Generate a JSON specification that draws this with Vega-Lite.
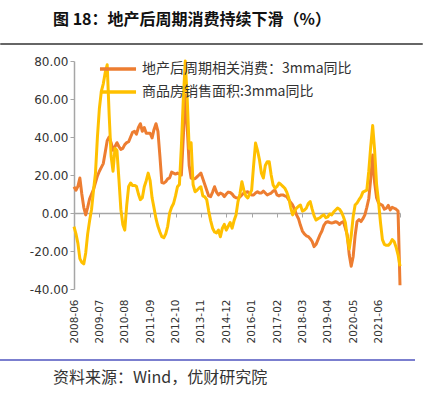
{
  "$schema": "https://vega.github.io/schema/vega-lite/v6.json",
  "padding": {"left": 0, "top": 11, "right": 0, "bottom": 0},
  "background": "white",
  "config": {"view": {"stroke": null}, "font": "DejaVu Sans"},
  "columns": 1,
  "spacing": 10,
  "concat": [
    {
      "width": 421,
      "height": 0.001,
      "data": {"values": []},
      "mark": "rule",
      "encoding": {},
      "view": {"stroke": "#333333", "strokeWidth": 1.5},
      "title": {"text": "图 18：地产后周期消费持续下滑（%）", "anchor": "start", "dx": 52, "offset": 16, "font": "Noto Sans CJK SC", "fontSize": 16, "fontWeight": "bold", "color": "#111111"}
    },
    {
      "width": 421,
      "height": 228,
      "layer": [
        {
          "data": {"values": [
            {"m":"2008-06","consumption":13.8,"sales":-7.2},
            {"m":"2008-07","consumption":12,"sales":-11},
            {"m":"2008-08","consumption":14,"sales":-16},
            {"m":"2008-09","consumption":18.4,"sales":-24},
            {"m":"2008-10","consumption":10,"sales":-26},
            {"m":"2008-11","consumption":3,"sales":-26.8},
            {"m":"2008-12","consumption":-1,"sales":-21},
            {"m":"2009-01","consumption":3,"sales":-11},
            {"m":"2009-02","consumption":7.5,"sales":-4},
            {"m":"2009-03","consumption":10,"sales":2},
            {"m":"2009-04","consumption":12.5,"sales":12},
            {"m":"2009-05","consumption":16,"sales":21},
            {"m":"2009-06","consumption":19.5,"sales":40},
            {"m":"2009-07","consumption":22,"sales":55},
            {"m":"2009-08","consumption":24,"sales":64},
            {"m":"2009-09","consumption":26,"sales":68},
            {"m":"2009-10","consumption":32,"sales":74},
            {"m":"2009-11","consumption":38,"sales":78},
            {"m":"2009-12","consumption":40,"sales":52},
            {"m":"2010-01","consumption":37,"sales":30},
            {"m":"2010-02","consumption":33,"sales":22},
            {"m":"2010-03","consumption":35,"sales":34},
            {"m":"2010-04","consumption":37,"sales":33},
            {"m":"2010-05","consumption":35,"sales":18},
            {"m":"2010-06","consumption":33.5,"sales":2},
            {"m":"2010-07","consumption":34,"sales":-6},
            {"m":"2010-08","consumption":36,"sales":-9},
            {"m":"2010-09","consumption":37,"sales":4},
            {"m":"2010-10","consumption":37.5,"sales":14},
            {"m":"2010-11","consumption":40,"sales":15.8},
            {"m":"2010-12","consumption":42.5,"sales":14.5},
            {"m":"2011-01","consumption":43,"sales":14.5},
            {"m":"2011-02","consumption":41.5,"sales":14},
            {"m":"2011-03","consumption":45,"sales":10},
            {"m":"2011-04","consumption":47,"sales":7},
            {"m":"2011-05","consumption":43,"sales":8},
            {"m":"2011-06","consumption":45,"sales":13.8},
            {"m":"2011-07","consumption":42,"sales":17},
            {"m":"2011-08","consumption":42,"sales":21},
            {"m":"2011-09","consumption":42,"sales":17},
            {"m":"2011-10","consumption":39.5,"sales":8},
            {"m":"2011-11","consumption":44,"sales":2.6},
            {"m":"2011-12","consumption":47,"sales":-3},
            {"m":"2012-01","consumption":43,"sales":-7},
            {"m":"2012-02","consumption":30,"sales":-10},
            {"m":"2012-03","consumption":16,"sales":-12.5},
            {"m":"2012-04","consumption":15.7,"sales":-13},
            {"m":"2012-05","consumption":16.5,"sales":-11},
            {"m":"2012-06","consumption":18,"sales":-7},
            {"m":"2012-07","consumption":18.5,"sales":0},
            {"m":"2012-08","consumption":21.5,"sales":3},
            {"m":"2012-09","consumption":21,"sales":5},
            {"m":"2012-10","consumption":20.5,"sales":9},
            {"m":"2012-11","consumption":21,"sales":13.8},
            {"m":"2012-12","consumption":20.5,"sales":15},
            {"m":"2013-01","consumption":20,"sales":35},
            {"m":"2013-02","consumption":40,"sales":60},
            {"m":"2013-03","consumption":62,"sales":80},
            {"m":"2013-04","consumption":45,"sales":60},
            {"m":"2013-05","consumption":25,"sales":34},
            {"m":"2013-06","consumption":18.4,"sales":37},
            {"m":"2013-07","consumption":18,"sales":15},
            {"m":"2013-08","consumption":18,"sales":11.2},
            {"m":"2013-09","consumption":19,"sales":12},
            {"m":"2013-10","consumption":20,"sales":13},
            {"m":"2013-11","consumption":21,"sales":13.8},
            {"m":"2013-12","consumption":18,"sales":9},
            {"m":"2014-01","consumption":15,"sales":8.5},
            {"m":"2014-02","consumption":12,"sales":7},
            {"m":"2014-03","consumption":9,"sales":1},
            {"m":"2014-04","consumption":8.6,"sales":-4},
            {"m":"2014-05","consumption":11,"sales":-8},
            {"m":"2014-06","consumption":13.8,"sales":-10},
            {"m":"2014-07","consumption":11,"sales":-10.5},
            {"m":"2014-08","consumption":9.5,"sales":-9},
            {"m":"2014-09","consumption":10.5,"sales":-12.5},
            {"m":"2014-10","consumption":10,"sales":-8},
            {"m":"2014-11","consumption":8.6,"sales":-6},
            {"m":"2014-12","consumption":10,"sales":-9},
            {"m":"2015-01","consumption":11,"sales":-7},
            {"m":"2015-02","consumption":10.8,"sales":-5},
            {"m":"2015-03","consumption":10,"sales":-8},
            {"m":"2015-04","consumption":8.6,"sales":-4},
            {"m":"2015-05","consumption":8,"sales":-1},
            {"m":"2015-06","consumption":7.9,"sales":6},
            {"m":"2015-07","consumption":8.5,"sales":10},
            {"m":"2015-08","consumption":9.5,"sales":16.5},
            {"m":"2015-09","consumption":10.5,"sales":12},
            {"m":"2015-10","consumption":11,"sales":9},
            {"m":"2015-11","consumption":11.2,"sales":7.9},
            {"m":"2015-12","consumption":10,"sales":10},
            {"m":"2016-01","consumption":9.5,"sales":12},
            {"m":"2016-02","consumption":9.5,"sales":25},
            {"m":"2016-03","consumption":10.5,"sales":36.8},
            {"m":"2016-04","consumption":11.2,"sales":33},
            {"m":"2016-05","consumption":10.5,"sales":28},
            {"m":"2016-06","consumption":10.5,"sales":21},
            {"m":"2016-07","consumption":11.5,"sales":18.4},
            {"m":"2016-08","consumption":10.5,"sales":25},
            {"m":"2016-09","consumption":9.5,"sales":27},
            {"m":"2016-10","consumption":10,"sales":27},
            {"m":"2016-11","consumption":10.5,"sales":20},
            {"m":"2016-12","consumption":11.5,"sales":14.7},
            {"m":"2017-01","consumption":12,"sales":13},
            {"m":"2017-02","consumption":9.5,"sales":14},
            {"m":"2017-03","consumption":9,"sales":15.8},
            {"m":"2017-04","consumption":9.5,"sales":15},
            {"m":"2017-05","consumption":9.5,"sales":14},
            {"m":"2017-06","consumption":9,"sales":13},
            {"m":"2017-07","consumption":8.6,"sales":11},
            {"m":"2017-08","consumption":7,"sales":7.9},
            {"m":"2017-09","consumption":5.5,"sales":3},
            {"m":"2017-10","consumption":4.2,"sales":-1},
            {"m":"2017-11","consumption":2,"sales":1},
            {"m":"2017-12","consumption":-1,"sales":2.6},
            {"m":"2018-01","consumption":-3,"sales":3.5},
            {"m":"2018-02","consumption":-6.5,"sales":4.2},
            {"m":"2018-03","consumption":-9.5,"sales":1},
            {"m":"2018-04","consumption":-11,"sales":1.5},
            {"m":"2018-05","consumption":-12,"sales":2.5},
            {"m":"2018-06","consumption":-12.4,"sales":5},
            {"m":"2018-07","consumption":-13.5,"sales":6},
            {"m":"2018-08","consumption":-15,"sales":2},
            {"m":"2018-09","consumption":-17.7,"sales":-1.5},
            {"m":"2018-10","consumption":-16.5,"sales":-3.7},
            {"m":"2018-11","consumption":-14,"sales":-3},
            {"m":"2018-12","consumption":-11.5,"sales":-2.5},
            {"m":"2019-01","consumption":-9.5,"sales":-1.5},
            {"m":"2019-02","consumption":-6.5,"sales":-1},
            {"m":"2019-03","consumption":-5,"sales":-2.5},
            {"m":"2019-04","consumption":-4.6,"sales":-2},
            {"m":"2019-05","consumption":-5,"sales":-0.5},
            {"m":"2019-06","consumption":-5.3,"sales":-1},
            {"m":"2019-07","consumption":-5,"sales":0.5},
            {"m":"2019-08","consumption":-4.6,"sales":1.6},
            {"m":"2019-09","consumption":-5,"sales":2.6},
            {"m":"2019-10","consumption":-6,"sales":2},
            {"m":"2019-11","consumption":-5,"sales":0.5},
            {"m":"2019-12","consumption":-4.5,"sales":-2},
            {"m":"2020-01","consumption":-8,"sales":-5},
            {"m":"2020-02","consumption":-11.6,"sales":-13},
            {"m":"2020-03","consumption":-22,"sales":-19},
            {"m":"2020-04","consumption":-28,"sales":-12},
            {"m":"2020-05","consumption":-23,"sales":-2},
            {"m":"2020-06","consumption":-12,"sales":4.2},
            {"m":"2020-07","consumption":-4.5,"sales":5.3},
            {"m":"2020-08","consumption":-3.5,"sales":7},
            {"m":"2020-09","consumption":-4.5,"sales":8.5},
            {"m":"2020-10","consumption":-3,"sales":11},
            {"m":"2020-11","consumption":-1,"sales":11.5},
            {"m":"2020-12","consumption":3,"sales":12},
            {"m":"2021-01","consumption":7.5,"sales":22},
            {"m":"2021-02","consumption":18,"sales":35},
            {"m":"2021-03","consumption":30.5,"sales":46},
            {"m":"2021-04","consumption":16,"sales":33},
            {"m":"2021-05","consumption":8,"sales":15},
            {"m":"2021-06","consumption":5.3,"sales":6},
            {"m":"2021-07","consumption":4.5,"sales":-5},
            {"m":"2021-08","consumption":4,"sales":-14},
            {"m":"2021-09","consumption":2,"sales":-16.5},
            {"m":"2021-10","consumption":2.5,"sales":-17},
            {"m":"2021-11","consumption":4,"sales":-17},
            {"m":"2021-12","consumption":1.6,"sales":-16},
            {"m":"2022-01","consumption":3,"sales":-14},
            {"m":"2022-02","consumption":2.5,"sales":-15},
            {"m":"2022-03","consumption":2,"sales":-18},
            {"m":"2022-04","consumption":1,"sales":-22},
            {"m":"2022-05","consumption":-38,"sales":-28}
          ]},
          "transform": [{"fold": ["consumption", "sales"], "as": ["series", "value"]}],
          "mark": {"type": "line", "strokeWidth": 3, "strokeJoin": "round", "clip": false},
          "encoding": {
            "x": {
              "field": "m", "type": "ordinal", "sort": null,
              "scale": {"type": "point", "padding": 0, "range": [73, 399]},
              "axis": {
                "orient": "bottom", "title": null,
                "values": ["2008-06","2009-07","2010-08","2011-09","2012-10","2013-11","2014-12","2016-01","2017-02","2018-03","2019-04","2020-05","2021-06"],
                "labelAngle": -90, "labelPadding": 10, "domain": false, "ticks": false, "grid": false,
                "labelFont": "DejaVu Sans", "labelFontSize": 10.5, "labelColor": "#333333", "minExtent": 60
              }
            },
            "y": {
              "field": "value", "type": "quantitative",
              "scale": {"domain": [-40, 80], "nice": false, "zero": false},
              "axis": {
                "title": null, "grid": false, "values": [-40, -20, 0, 20, 40, 60, 80], "offset": -73,
                "labelExpr": "datum.value < 0 ? '-' + format(-datum.value, '.2f') : format(datum.value, '.2f')",
                "domainColor": "#a6a6a6", "domainWidth": 1.5, "tickColor": "#a6a6a6", "tickSize": 4,
                "labelFont": "DejaVu Sans", "labelFontSize": 12, "labelColor": "#333333", "labelPadding": 2
              }
            },
            "color": {
              "field": "series", "type": "nominal",
              "scale": {"domain": ["consumption", "sales"], "range": ["#ED7D31", "#FFC000"]},
              "legend": {
                "orient": "none", "legendX": 97, "legendY": 17, "title": null, "padding": 0,
                "symbolType": "stroke", "symbolSize": 1300, "symbolStrokeWidth": 3.5,
                "clipHeight": 16, "rowPadding": 7, "labelOffset": 4, "labelLimit": 400,
                "labelFont": "Noto Sans CJK SC", "labelFontSize": 14, "labelColor": "#333333",
                "labelExpr": "datum.value == 'consumption' ? '地产后周期相关消费：3mma同比' : '商品房销售面积:3mma同比'"
              }
            }
          }
        },
        {
          "data": {"values": []},
          "mark": {"type": "point", "opacity": 0},
          "encoding": {
            "x": {
              "field": "m", "type": "ordinal",
              "axis": {
                "orient": "bottom", "offset": -76, "title": null, "labels": false, "grid": false,
                "values": ["2008-06","2009-07","2010-08","2011-09","2012-10","2013-11","2014-12","2016-01","2017-02","2018-03","2019-04","2020-05","2021-06","2022-05"],
                "domain": true, "domainColor": "#a6a6a6", "domainWidth": 1.5,
                "ticks": true, "tickColor": "#a6a6a6", "tickSize": 4
              }
            }
          }
        }
      ],
      "resolve": {"axis": {"x": "independent"}}
    },
    {
      "width": 413,
      "height": 0.001,
      "data": {"values": []},
      "mark": "rule",
      "encoding": {},
      "view": {"stroke": "#7b7fcf", "strokeWidth": 2},
      "title": {"text": "资料来源：Wind，优财研究院", "orient": "bottom", "anchor": "start", "dx": 52, "offset": 10, "font": "Noto Sans CJK SC", "fontSize": 16, "fontWeight": "normal", "color": "#333333"}
    }
  ]
}
